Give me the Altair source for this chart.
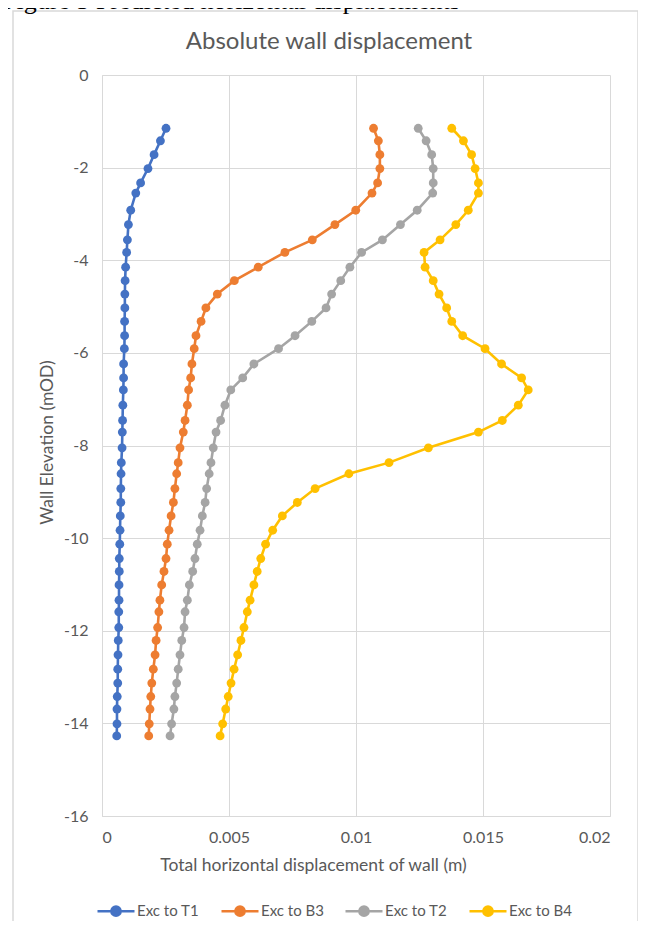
import altair as alt
import pandas as pd

elevation = [-1.15, -1.42, -1.72, -2.02, -2.33, -2.55, -2.92, -3.23, -3.56, -3.83,
             -4.15, -4.44, -4.73, -5.03, -5.32, -5.63, -5.91, -6.24, -6.54, -6.80,
             -7.13, -7.46, -7.71, -8.05, -8.37, -8.61, -8.93, -9.23, -9.52, -9.83,
             -10.13, -10.44, -10.72, -11.01, -11.34, -11.59, -11.93, -12.21, -12.52, -12.83,
             -13.13, -13.42, -13.69, -14.01, -14.27]

exc_t1 = [0.00252, 0.00230, 0.00205, 0.00181, 0.00152, 0.00133, 0.00113, 0.00104, 0.00100, 0.00097,
          0.00093, 0.00091, 0.00090, 0.00090, 0.00089, 0.00089, 0.00088, 0.00085, 0.00085, 0.00084,
          0.00082, 0.00081, 0.00080, 0.00079, 0.00076, 0.00075, 0.00074, 0.00074, 0.00072, 0.00071,
          0.00070, 0.00068, 0.00068, 0.00067, 0.00067, 0.00066, 0.00066, 0.00064, 0.00063, 0.00062,
          0.00062, 0.00060, 0.00059, 0.00059, 0.00058]

exc_b3 = [0.01069, 0.01088, 0.01094, 0.01094, 0.01085, 0.01063, 0.00999, 0.00917, 0.00828, 0.00720,
          0.00615, 0.00521, 0.00454, 0.00409, 0.00390, 0.00370, 0.00363, 0.00354, 0.00349, 0.00341,
          0.00336, 0.00327, 0.00320, 0.00307, 0.00300, 0.00294, 0.00287, 0.00281, 0.00272, 0.00264,
          0.00257, 0.00252, 0.00244, 0.00235, 0.00228, 0.00224, 0.00219, 0.00213, 0.00209, 0.00202,
          0.00196, 0.00192, 0.00189, 0.00186, 0.00184]

exc_t2 = [0.01245, 0.01276, 0.01298, 0.01304, 0.01304, 0.01302, 0.01241, 0.01175, 0.01104, 0.01022,
          0.00976, 0.00940, 0.00904, 0.00882, 0.00826, 0.00760, 0.00695, 0.00598, 0.00554, 0.00507,
          0.00484, 0.00467, 0.00449, 0.00438, 0.00429, 0.00422, 0.00412, 0.00406, 0.00395, 0.00386,
          0.00375, 0.00366, 0.00357, 0.00344, 0.00336, 0.00327, 0.00323, 0.00314, 0.00307, 0.00300,
          0.00294, 0.00287, 0.00283, 0.00274, 0.00268]

exc_b4 = [0.01377, 0.01423, 0.01455, 0.01469, 0.01482, 0.01482, 0.01442, 0.01393, 0.01331, 0.01268,
          0.01272, 0.01304, 0.01327, 0.01357, 0.01377, 0.01420, 0.01508, 0.01573, 0.01652, 0.01678,
          0.01639, 0.01576, 0.01482, 0.01285, 0.01130, 0.00972, 0.00839, 0.00769, 0.00710, 0.00672,
          0.00644, 0.00625, 0.00611, 0.00598, 0.00583, 0.00572, 0.00559, 0.00547, 0.00534, 0.00520,
          0.00508, 0.00497, 0.00487, 0.00475, 0.00465]

series_names = ["Exc to T1", "Exc to B3", "Exc to T2", "Exc to B4"]
series_colors = ["#4472C4", "#ED7D31", "#A5A5A5", "#FFC000"]
series_values = [exc_t1, exc_b3, exc_t2, exc_b4]

x_ticks = [0, 0.005, 0.01, 0.015, 0.02]
y_ticks = [0, -2, -4, -6, -8, -10, -12, -14, -16]

chart_title = "Absolute wall displacement"
caption = "Figure 5 Predicted horizontal displacements"
x_title = "Total horizontal displacement of wall (m)"
y_title = "Wall Elevation (mOD)"

rows = []
for name, vals in zip(series_names, series_values):
    for i, (e, v) in enumerate(zip(elevation, vals)):
        rows.append({"series": name, "disp": v, "elev": e, "idx": i})
df = pd.DataFrame(rows)

TXT = "#595959"
GRID = "#D9D9D9"
FONT = "Lato"
W, H = 508, 741

sym_path = "M-1,0L1,0M-0.25,0A0.25,0.25,0,1,1,0.25,0A0.25,0.25,0,1,1,-0.25,0Z"

legend = alt.Legend(
    title=None, orient="none", legendX=-6, legendY=816, direction="horizontal",
    symbolType=sym_path, symbolSize=1369, symbolStrokeWidth=2.5,
    labelFont=FONT, labelFontSize=15, labelColor=TXT, labelOffset=1,
    columnPadding=16, padding=0,
)

x_enc = alt.X(
    "disp:Q",
    scale=alt.Scale(domain=[0, 0.02], nice=False, zero=False),
    axis=alt.Axis(values=x_ticks, labelExpr="'' + datum.value", title=x_title,
                  titleX=211, titleY=49, titleBaseline="middle", labelPadding=13),
)
y_enc = alt.Y(
    "elev:Q",
    scale=alt.Scale(domain=[-16, 0], nice=False, zero=False),
    axis=alt.Axis(values=y_ticks, labelExpr="'' + datum.value", title=y_title,
                  titleX=-55, titleY=367, titleBaseline="middle", labelPadding=14),
)

base = alt.Chart(df)

lines = base.mark_line(strokeWidth=2.6).encode(
    x=x_enc, y=y_enc,
    stroke=alt.Stroke("series:N", scale=alt.Scale(domain=series_names, range=series_colors), legend=legend),
    order="idx:Q",
)
points = base.mark_point(filled=True, size=78, opacity=1).encode(
    x=x_enc, y=y_enc,
    fill=alt.Fill("series:N", scale=alt.Scale(domain=series_names, range=series_colors), legend=legend),
)

one = pd.DataFrame({"k": [0]})
frame = alt.Chart(one).mark_rect(fill=None, stroke=GRID, strokeWidth=1.5).encode(
    x=alt.value(-89), x2=alt.value(536), y=alt.value(-64), y2=alt.value(900)
)
title_mark = alt.Chart(one).mark_text(
    text=chart_title, font=FONT, fontSize=24, color=TXT, align="center", baseline="middle"
).encode(x=alt.value(227), y=alt.value(-33))
caption_mark = alt.Chart(one).mark_text(
    text=caption, font="Liberation Serif", fontSize=26, color="#000000", align="left", baseline="alphabetic"
).encode(x=alt.value(-100), y=alt.value(-66))

chart = alt.layer(frame, caption_mark, title_mark, lines, points).properties(
    width=W, height=H,
    autosize=alt.AutoSizeParams(type="none"),
    padding={"left": 94, "top": 67, "right": 28, "bottom": 105},
).configure_view(stroke=None).configure_axis(
    labelFont=FONT, labelFontSize=16, labelColor=TXT, ticks=False,
    domainColor=GRID, gridColor=GRID, gridWidth=1,
    titleFont=FONT, titleFontSize=17.5, titleColor=TXT, titleFontWeight="normal",
).configure_legend(symbolStrokeWidth=2.5)

chart.save("out.html", embed_options={"renderer": "svg", "actions": False})
